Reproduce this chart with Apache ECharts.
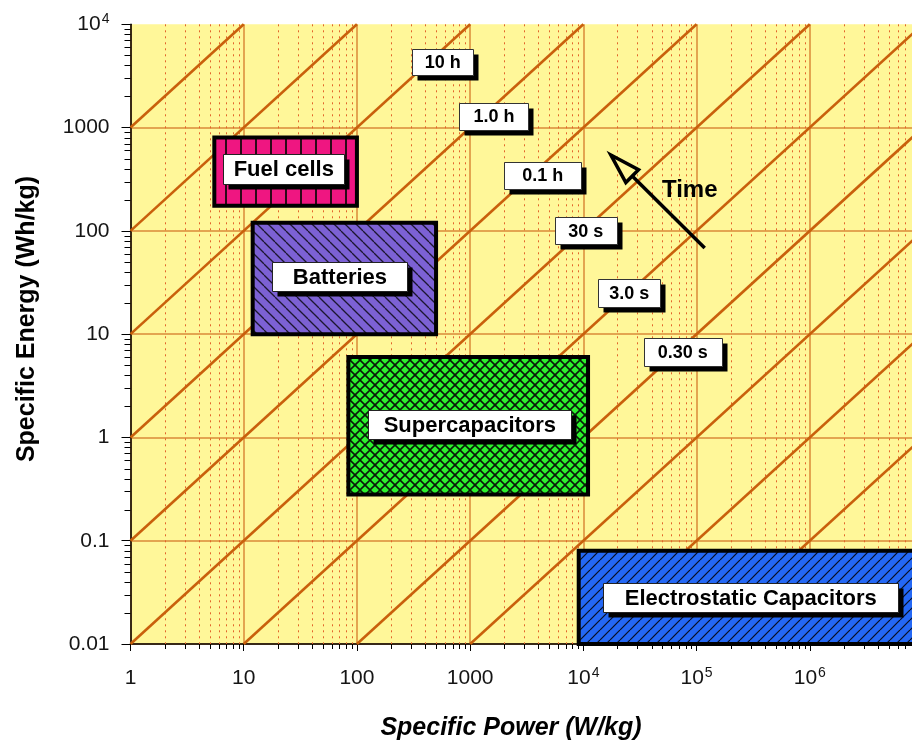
<!DOCTYPE html>
<html><head><meta charset="utf-8">
<script src="https://cdn.jsdelivr.net/npm/echarts@6/dist/echarts.min.js"></script>
<style>html,body{margin:0;padding:0;background:#fff}#c{width:912px;height:742px}</style>
</head><body><div id="c"></div>
<script>
// ---------------- DATA ----------------
const xTickValues = [1, 10, 100, 1000, 1e4, 1e5, 1e6];
const xTickLabels = ['1', '10', '100', '1000', '10^4', '10^5', '10^6'];
const yTickValues = [0.01, 0.1, 1, 10, 100, 1000, 1e4];
const yTickLabels = ['0.01', '0.1', '1', '10', '100', '1000', '10^4'];
const minorMultipliers = [2, 3, 4, 5, 6, 7, 8, 9];

const techNames = ['Fuel cells', 'Batteries', 'Supercapacitors', 'Electrostatic Capacitors'];
const techPowerMin = [5.5, 12, 84, 9100];
const techPowerMax = [100, 500, 11000, 1e7];
const techEnergyMin = [175, 10, 0.28, 0.01];
const techEnergyMax = [800, 120, 6, 0.08];
const techLabelPower = [22.6, 70.8, 995, 301000];
const techLabelEnergy = [397, 35.8, 1.33, 0.0279];

// constant discharge-time lines (E = P * t), start / end points
const timeLineStart = [[1,1000],[1,100],[1,10],[1,1],[1,0.1],[1,0.01],[10,0.01],[100,0.01],[1000,0.01],[1e4,0.01],[1e5,0.01],[1e6,0.01]];
const timeLineEnd = [[10,1e4],[100,1e4],[1000,1e4],[1e4,1e4],[1e5,1e4],[1e6,1e4],[1e7,1e4],[1e7,1000],[1e7,100],[1e7,10],[1e7,1],[1e7,0.1]];

const timeLabels = ['10 h', '1.0 h', '0.1 h', '30 s', '3.0 s', '0.30 s'];
const timeLabelPower = [574, 1622, 4385, 10520, 25490, 75660];
const timeLabelEnergy = [4315, 1294, 347, 99.8, 25.1, 6.73];

const arrowFrom = [118000, 68.4];
const arrowTo = [17500, 543];
const arrowText = 'Time';
const arrowTextPos = [87000, 249];

const xTitle = 'Specific Power (W/kg)';
const yTitle = 'Specific Energy (Wh/kg)';

// ---------------- LAYOUT / STYLE ----------------
const techBoxSize = [[121, 30], [135, 29], [203, 29], [295, 29]];
const timeBoxSize = [[61, 26], [69, 27], [77, 27], [62, 27], [62, 28], [78, 28]];
const BG = '#FFF799';
const FONT = '"Liberation Sans", Arial, Helvetica, sans-serif';

function makePattern(bg, w, h, draw) {
  const c = document.createElement('canvas');
  c.width = w; c.height = h;
  const ctx = c.getContext('2d');
  ctx.fillStyle = bg; ctx.fillRect(0, 0, w, h);
  draw(ctx, w, h);
  return { image: c, repeat: 'repeat' };
}
function diag(ctx, s, dir) {
  for (let k = -1; k <= 1; k++) {
    ctx.beginPath();
    if (dir > 0) { ctx.moveTo(k * s, s); ctx.lineTo(k * s + s, 0); }
    else { ctx.moveTo(k * s, 0); ctx.lineTo(k * s + s, s); }
    ctx.stroke();
  }
}
const patterns = [
  makePattern('#EF1681', 15, 4, (ctx, w, h) => { ctx.fillStyle = '#2a0a18'; ctx.fillRect(0, 0, 2, h); }),
  makePattern('#7C61D4', 11, 11, (ctx, s) => { ctx.strokeStyle = '#1c1630'; ctx.lineWidth = 1.3; diag(ctx, s, -1); }),
  makePattern('#2CF02C', 10, 10, (ctx, s) => { ctx.strokeStyle = '#0a1a0a'; ctx.lineWidth = 1.6; diag(ctx, s, -1); diag(ctx, s, 1); }),
  makePattern('#2468F5', 10, 10, (ctx, s) => { ctx.strokeStyle = '#0a0f20'; ctx.lineWidth = 1.2; diag(ctx, s, 1); })
];

function supLabel(list, values) {
  return function (v) {
    const k = Math.round(Math.log10(v));
    const i = values.findIndex(t => Math.round(Math.log10(t)) === k);
    if (i < 0) return '';
    const s = list[i];
    if (s.indexOf('^') >= 0) { const p = s.split('^'); return '{n|' + p[0] + '}{s|' + p[1] + '}'; }
    return '{n|' + s + '}';
  };
}
const richLbl = {
  n: { fontSize: 21, fontFamily: FONT, color: '#151515', lineHeight: 24 },
  s: { fontSize: 14, fontFamily: FONT, color: '#151515', verticalAlign: 'top', lineHeight: 24, padding: [0, 0, 8, 1] }
};

// minor tick positions derived from the decade ticks
const xMinor = [];
xTickValues.forEach(d => minorMultipliers.forEach(m => xMinor.push([d * m, 1])));
const yMinor = [];
yTickValues.slice(0, -1).forEach(d => minorMultipliers.forEach(m => yMinor.push([1, d * m])));

const series = [];
// minor dotted vertical grid + minor x ticks
series.push({
  type: 'custom', coordinateSystem: 'cartesian2d', z: 1, silent: true, clip: false,
  data: xMinor, encode: { x: 0, y: 1 },
  renderItem: (params, api) => {
    const t = api.coord([api.value(0), 1e4]);
    const b = api.coord([api.value(0), 0.01]);
    const x = Math.round(t[0]) + 0.5;
    return { type: 'group', children: [
      { type: 'line', shape: { x1: x, y1: t[1], x2: x, y2: b[1] }, style: { stroke: '#E2642A', lineWidth: 1, lineDash: [2, 4] } },
      { type: 'line', shape: { x1: x, y1: b[1], x2: x, y2: b[1] + 5 }, style: { stroke: '#000', lineWidth: 1 } }
    ] };
  }
});
// minor y ticks
series.push({
  type: 'custom', coordinateSystem: 'cartesian2d', z: 1, silent: true, clip: false,
  data: yMinor, encode: { x: 0, y: 1 },
  renderItem: (params, api) => {
    const p = api.coord([1, api.value(1)]);
    const y = Math.round(p[1]) + 0.5;
    return { type: 'line', shape: { x1: p[0] - 6, y1: y, x2: p[0], y2: y }, style: { stroke: '#000', lineWidth: 1 } };
  }
});
// constant-time lines
timeLineStart.forEach((s, i) => {
  series.push({
    type: 'line', z: 2, silent: true, showSymbol: false, symbol: 'none',
    data: [s, timeLineEnd[i]],
    lineStyle: { color: '#C9600C', width: 2.6 }
  });
});
// technology boxes
series.push({
  type: 'custom', coordinateSystem: 'cartesian2d', z: 3, silent: true,
  data: techNames.map((n, i) => [techPowerMin[i], techEnergyMin[i], techPowerMax[i], techEnergyMax[i], techLabelPower[i], techLabelEnergy[i]]),
  encode: { x: [0, 2], y: [1, 3] },
  renderItem: (params, api) => {
    const i = params.dataIndex;
    const p0 = api.coord([api.value(0), api.value(3)]);
    const p1 = api.coord([api.value(2), api.value(1)]);
    const lc = api.coord([api.value(4), api.value(5)]);
    const w = techBoxSize[i][0], h = techBoxSize[i][1];
    const lx = Math.round(lc[0] - w / 2) + 0.5, ly = Math.round(lc[1] - h / 2) + 0.5;
    return { type: 'group', children: [
      { type: 'rect', shape: { x: p0[0], y: p0[1], width: p1[0] - p0[0], height: p1[1] - p0[1] },
        style: { fill: patterns[i], stroke: '#000', lineWidth: 4 } },
      { type: 'rect', shape: { x: lx + 5, y: ly + 5, width: w, height: h }, style: { fill: '#000' } },
      { type: 'rect', shape: { x: lx, y: ly, width: w, height: h }, style: { fill: '#fff', stroke: '#222', lineWidth: 1 } },
      { type: 'text', x: lc[0], y: lc[1] + 1, style: { text: techNames[i], font: 'bold 22px ' + FONT, align: 'center', verticalAlign: 'middle', fill: '#000' } }
    ] };
  }
});
// time labels
series.push({
  type: 'custom', coordinateSystem: 'cartesian2d', z: 4, silent: true,
  data: timeLabels.map((t, i) => [timeLabelPower[i], timeLabelEnergy[i]]),
  encode: { x: 0, y: 1 },
  renderItem: (params, api) => {
    const i = params.dataIndex;
    const c = api.coord([api.value(0), api.value(1)]);
    const w = timeBoxSize[i][0], h = timeBoxSize[i][1];
    const lx = Math.round(c[0] - w / 2) + 0.5, ly = Math.round(c[1] - h / 2) + 0.5;
    return { type: 'group', children: [
      { type: 'rect', shape: { x: lx + 5, y: ly + 5, width: w, height: h }, style: { fill: '#000' } },
      { type: 'rect', shape: { x: lx, y: ly, width: w, height: h }, style: { fill: '#fff', stroke: '#333', lineWidth: 1 } },
      { type: 'text', x: c[0], y: c[1] + 1, style: { text: timeLabels[i], font: 'bold 18px ' + FONT, align: 'center', verticalAlign: 'middle', fill: '#000' } }
    ] };
  }
});
// time arrow
series.push({
  type: 'custom', coordinateSystem: 'cartesian2d', z: 5, silent: true,
  data: [[arrowFrom[0], arrowFrom[1], arrowTo[0], arrowTo[1], arrowTextPos[0], arrowTextPos[1]]],
  encode: { x: [0, 2], y: [1, 3] },
  renderItem: (params, api) => {
    const a = api.coord([api.value(0), api.value(1)]);
    const b = api.coord([api.value(2), api.value(3)]);
    const tp = api.coord([api.value(4), api.value(5)]);
    const dx = b[0] - a[0], dy = b[1] - a[1];
    const L = Math.sqrt(dx * dx + dy * dy);
    const ux = dx / L, uy = dy / L, nx = -uy, ny = ux;
    const HL = 30, HW = 9;
    const bx = b[0] - ux * HL, by = b[1] - uy * HL;
    return { type: 'group', children: [
      { type: 'line', shape: { x1: a[0], y1: a[1], x2: bx, y2: by }, style: { stroke: '#000', lineWidth: 3.5 } },
      { type: 'polygon', shape: { points: [[b[0], b[1]], [bx + nx * HW, by + ny * HW], [bx - nx * HW, by - ny * HW]] },
        style: { fill: BG, stroke: '#000', lineWidth: 3.5, lineJoin: 'miter' } },
      { type: 'text', x: tp[0], y: tp[1], style: { text: arrowText, font: 'bold 24px ' + FONT, align: 'center', verticalAlign: 'middle', fill: '#000' } }
    ] };
  }
});

const option = {
  animation: false,
  backgroundColor: '#fff',
  grid: { left: 130.5, right: -11, top: 24.3, bottom: 98, show: true, backgroundColor: BG, borderWidth: 0, outerBoundsMode: 'none', containLabel: false },
  xAxis: {
    type: 'log', logBase: 10, min: 1, max: 1e7,
    axisLine: { show: true, onZero: false, lineStyle: { color: '#000', width: 1.5 } },
    axisTick: { show: true, length: 7, lineStyle: { color: '#000', width: 1 } },
    axisLabel: { margin: 22, formatter: supLabel(xTickLabels, xTickValues), rich: richLbl, hideOverlap: false },
    splitLine: { show: true, showMaxLine: false, lineStyle: { color: '#DA8A38', width: 1.5 } },
    minorTick: { show: false }, minorSplitLine: { show: false }
  },
  yAxis: {
    type: 'log', logBase: 10, min: 0.01, max: 1e4,
    axisLine: { show: true, onZero: false, lineStyle: { color: '#000', width: 1.5 } },
    axisTick: { show: true, length: 9, lineStyle: { color: '#000', width: 1 } },
    axisLabel: { margin: 21, formatter: supLabel(yTickLabels, yTickValues), rich: richLbl, hideOverlap: false },
    splitLine: { show: true, showMaxLine: false, lineStyle: { color: '#DA8A38', width: 1.5 } },
    minorTick: { show: false }, minorSplitLine: { show: false }
  },
  graphic: [
    { type: 'text', x: 511, y: 728, silent: true,
      style: { text: xTitle, font: 'italic bold 25px ' + FONT, align: 'center', verticalAlign: 'middle', fill: '#000' } },
    { type: 'text', x: 27, y: 319, rotation: Math.PI / 2, silent: true,
      style: { text: yTitle, font: 'bold 25px ' + FONT, align: 'center', verticalAlign: 'middle', fill: '#000' } }
  ],
  series: series
};
const chart = echarts.init(document.getElementById('c'), null, { renderer: 'canvas' });
chart.setOption(option);
</script>
</body></html>
